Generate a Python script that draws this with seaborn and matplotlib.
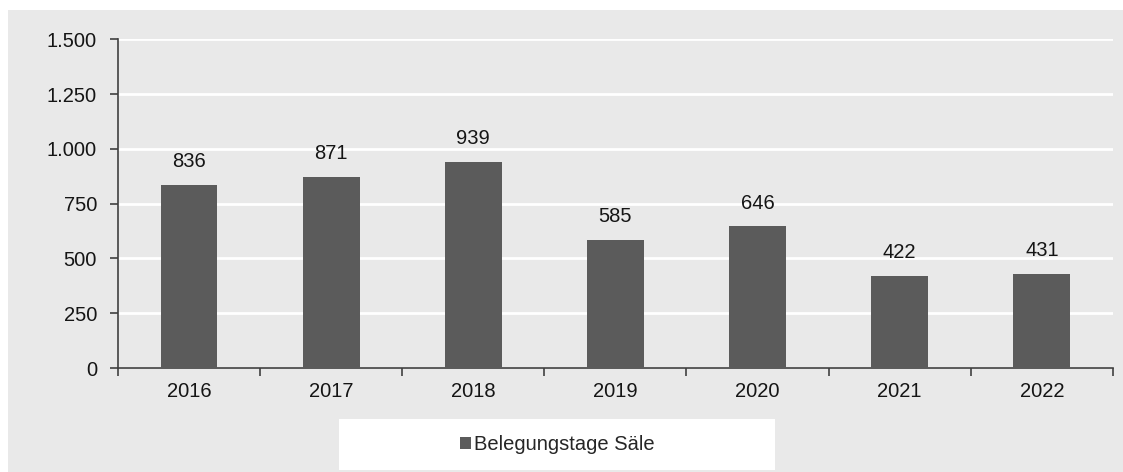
import numpy as np
import pandas as pd
import seaborn as sns
import matplotlib.pyplot as plt
from matplotlib.patches import Rectangle, Patch
from matplotlib.ticker import FuncFormatter, FixedLocator

years = ["2016", "2017", "2018", "2019", "2020", "2021", "2022"]
values = [836, 871, 939, 585, 646, 422, 431]
series_name = "Belegungstage Säle"

df = pd.DataFrame({"Jahr": years, "Tage": values})

sns.set_style("white")
plt.rcParams["font.family"] = ["Liberation Sans", "DejaVu Sans"]

bg = "#e9e9e9"
bar_color = "#5b5b5b"
axis_color = "#404040"
txt = "#151515"
fs = 14.5

fig = plt.figure(figsize=(11.23, 4.72), dpi=100, facecolor="white")
# grey panel (top strip stays white)
fig.patches.append(Rectangle((0.007, 0), 0.993, 0.978, transform=fig.transFigure,
                             facecolor=bg, edgecolor="none", zorder=-10))
ax = fig.add_axes([0.105, 0.22, 0.886, 0.697])
ax.set_facecolor(bg)

sns.barplot(data=df, x="Jahr", y="Tage", color=bar_color, width=0.4,
            saturation=1, linewidth=0, edgecolor="none", ax=ax, zorder=3)

ax.set_ylim(0, 1500)
ax.set_xlim(-0.5, len(years) - 0.5)
ax.set_yticks(np.arange(0, 1501, 250))
ax.yaxis.set_major_formatter(FuncFormatter(lambda v, p: f"{int(v):,}".replace(",", ".")))
ax.grid(axis="y", color="white", linewidth=2, zorder=1)
ax.set_axisbelow(True)

for s in ["top", "right"]:
    ax.spines[s].set_visible(False)
for s in ["left", "bottom"]:
    ax.spines[s].set_color(axis_color)
    ax.spines[s].set_linewidth(1.2)

ax.tick_params(axis="y", left=True, length=6, width=1.2, color=axis_color,
               labelsize=fs, labelcolor=txt, pad=9)
ax.tick_params(axis="x", which="major", bottom=True, length=0, labelsize=fs,
               labelcolor=txt, pad=10)
ax.xaxis.set_minor_locator(FixedLocator(np.arange(-0.5, len(years), 1.0)))
ax.tick_params(axis="x", which="minor", bottom=True, length=6, width=1.2,
               color=axis_color)
ax.set_xlabel("")
ax.set_ylabel("")

for i, v in enumerate(values):
    ax.annotate(str(v), (i, v), xytext=(0, 10), textcoords="offset points",
                ha="center", va="bottom", fontsize=fs, color=txt)

# legend box
fig.patches.append(Rectangle((339 / 1123, 0.004), 436 / 1123, 0.108,
                             transform=fig.transFigure, facecolor="white",
                             edgecolor="none", zorder=-5))
handle = Patch(facecolor=bar_color, edgecolor="none", label=series_name)
fig.legend(handles=[handle], loc="center", bbox_to_anchor=(557 / 1123, 1 - 445 / 472),
           frameon=False, fontsize=fs, handlelength=0.55, handleheight=0.55,
           handletextpad=0.15)

fig.savefig("out.png", dpi=100, facecolor="white")
